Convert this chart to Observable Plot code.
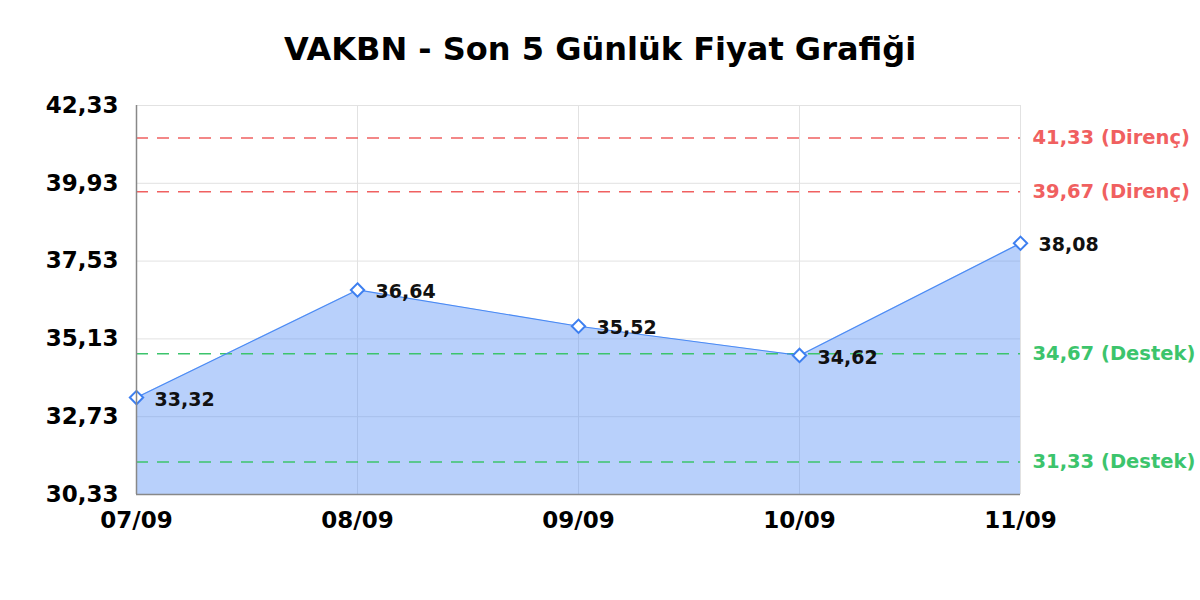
<!DOCTYPE html>
<html>
<head>
<meta charset="utf-8">
<script src="https://cdn.jsdelivr.net/npm/d3@7"></script>
<script src="https://cdn.jsdelivr.net/npm/@observablehq/plot@0.6"></script>
<style>
  body { margin: 0; background: #fff; }
  #wrap { position: relative; width: 1200px; height: 600px; }
  #title { position: absolute; top: 0; left: 0; width: 1200px; text-align: center;
    font-family: "DejaVu Sans", sans-serif; font-weight: bold; font-size: 32px; line-height: 98px; color: #000; z-index: 2; }
</style>
</head>
<body>
<div id="wrap">
  <div id="title">VAKBN - Son 5 Günlük Fiyat Grafiği</div>
  <div id="chart"></div>
</div>
<script>
const dates = ["07/09", "08/09", "09/09", "10/09", "11/09"];
const prices = [33.32, 36.64, 35.52, 34.62, 38.08];
const yTicks = [30.33, 32.73, 35.13, 37.53, 39.93, 42.33];
const resistanceLevels = [41.33, 39.67];
const supportLevels = [34.67, 31.33];

const fmt = v => d3.format(".2f")(v).replace(".", ",");
const data = dates.map((d, i) => ({date: d, price: prices[i]}));
const levels = [
  ...resistanceLevels.map(v => ({v, label: `${fmt(v)} (Direnç)`, color: "#f06060"})),
  ...supportLevels.map(v => ({v, label: `${fmt(v)} (Destek)`, color: "#3cc46c"}))
];
const lastDate = dates[dates.length - 1];
const firstDate = dates[0];

const chart = Plot.plot({
  width: 1200,
  height: 600,
  marginTop: 105,
  marginBottom: 106,
  marginLeft: 136,
  marginRight: 180,
  style: {fontFamily: "DejaVu Sans, sans-serif", fontWeight: "bold", color: "#000", background: "#fff"},
  x: {type: "point", domain: dates, padding: 0, label: null},
  y: {domain: [yTicks[0], yTicks[yTicks.length - 1]], ticks: yTicks, label: null, tickFormat: fmt},
  marks: [
    Plot.gridX({stroke: "#e2e2e2", strokeOpacity: 1}),
    Plot.gridY({ticks: yTicks, stroke: "#e2e2e2", strokeOpacity: 1}),
    Plot.areaY(data, {x: "date", y1: yTicks[0], y2: "price", fill: "#5b93f5", fillOpacity: 0.43}),
    Plot.ruleY(levels, {y: "v", stroke: "color", strokeWidth: 1.5, strokeDasharray: "12,9"}),
    Plot.text(levels, {x: () => lastDate, y: "v", text: "label", fill: "color", textAnchor: "start", dx: 12, fontSize: 19.5, fontWeight: "bold"}),
    Plot.line(data, {x: "date", y: "price", stroke: "#4a8af4", strokeWidth: 1.2}),
    Plot.dot(data, {x: "date", y: "price", symbol: "diamond2", r: 6, stroke: "#3d7ff0", strokeWidth: 2, fill: "#fff"}),
    Plot.text(data, {x: "date", y: "price", text: d => fmt(d.price), textAnchor: "start", dx: 18, dy: 2, fontSize: 19, fontWeight: "bold", fill: "#111"}),
    Plot.ruleX([firstDate], {stroke: "#888", strokeWidth: 1.5}),
    Plot.ruleY([yTicks[0]], {stroke: "#888", strokeWidth: 1.5}),
    Plot.axisY({ticks: yTicks, tickFormat: fmt, tickSize: 0, tickPadding: 18, fontSize: 23, fontWeight: "bold", label: null}),
    Plot.axisX({tickSize: 0, tickPadding: 17, fontSize: 23, fontWeight: "bold", label: null})
  ]
});
document.getElementById("chart").appendChild(chart);
</script>
</body>
</html>
